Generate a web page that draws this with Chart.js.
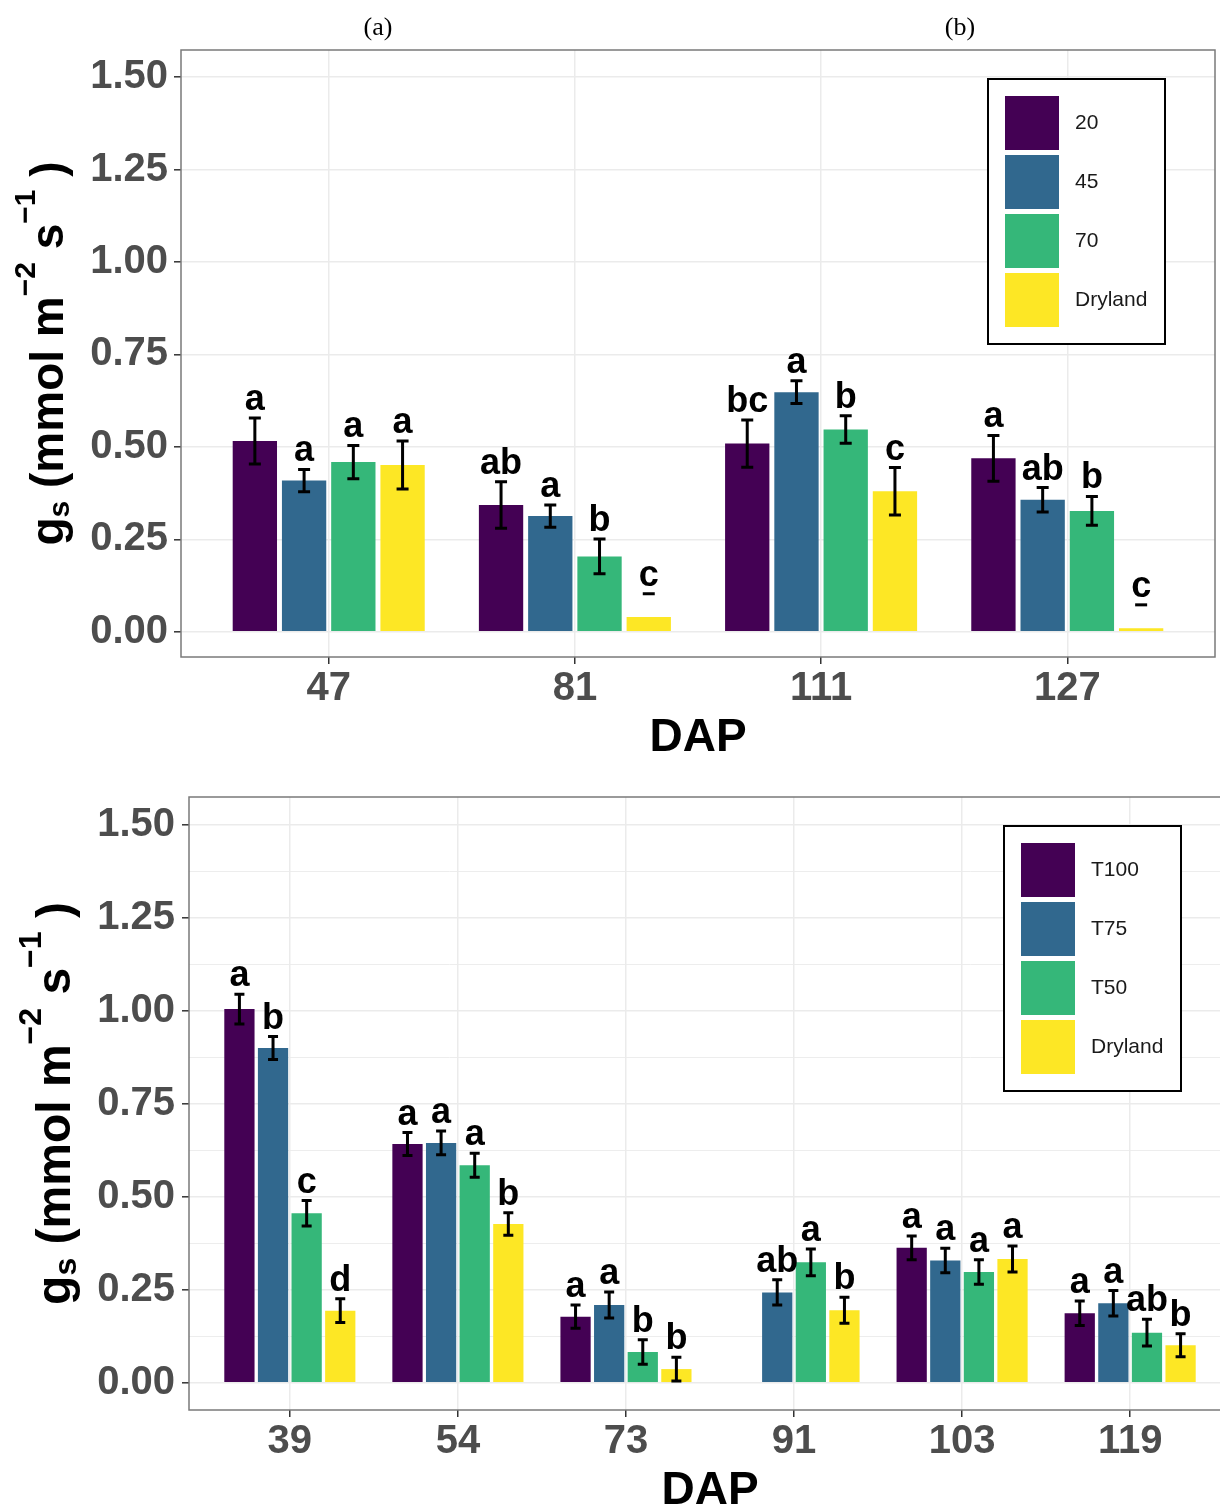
<!DOCTYPE html>
<html>
<head>
<meta charset="utf-8">
<script src="https://cdn.jsdelivr.net/npm/chart.js"></script>
<style>
  html, body { margin: 0; padding: 0; background: #fff; overflow: hidden; width: 1220px; height: 1504px; }
  .panel { position: absolute; left: 0; }
  .tag { position: absolute; z-index: 2; font-family: "Liberation Serif", serif; font-size: 26px; color: #000; transform: translateX(-50%); }
</style>
</head>
<body>
<div class="tag" style="left:378px; top:12px;">(a)</div>
<div class="tag" style="left:960px; top:12px;">(b)</div>
<canvas id="topChart" class="panel" width="1220" height="760" style="top:0"></canvas>
<canvas id="bottomChart" class="panel" width="1240" height="760" style="top:760px"></canvas>
<script>
const colors = ["#440154", "#31688E", "#35B779", "#FDE725"];
const yTicks = [0, 0.125, 0.25, 0.375, 0.5, 0.625, 0.75, 0.875, 1, 1.125, 1.25, 1.375, 1.5];

// top panel
const dapTop = ["47", "81", "111", "127"];
const groupsTop = ["20", "45", "70", "Dryland"];
const gs20 = [0.516, 0.343, 0.509, 0.469];
const gs45 = [0.409, 0.313, 0.648, 0.357];
const gs70 = [0.459, 0.204, 0.547, 0.327];
const gsDryTop = [0.451, 0.040, 0.380, 0.010];
const se20 = [0.062, 0.063, 0.064, 0.062];
const se45 = [0.030, 0.030, 0.031, 0.033];
const se70 = [0.045, 0.047, 0.037, 0.039];
const seDryTop = [0.065, 0.063, 0.064, 0.063];
const let20 = ["a", "ab", "bc", "a"];
const let45 = ["a", "a", "a", "ab"];
const let70 = ["a", "b", "b", "b"];
const letDryTop = ["a", "c", "c", "c"];

// bottom panel
const dapBottom = ["39", "54", "73", "91", "103", "119"];
const groupsBottom = ["T100", "T75", "T50", "Dryland"];
const gsT100 = [1.005, 0.642, 0.178, null, 0.363, 0.187];
const gsT75 = [0.900, 0.645, 0.209, 0.243, 0.329, 0.214];
const gsT50 = [0.456, 0.585, 0.083, 0.324, 0.298, 0.135];
const gsDryBottom = [0.194, 0.427, 0.037, 0.195, 0.333, 0.101];
const seT100 = [0.040, 0.031, 0.031, null, 0.032, 0.033];
const seT75 = [0.031, 0.032, 0.035, 0.034, 0.033, 0.034];
const seT50 = [0.034, 0.032, 0.033, 0.036, 0.033, 0.036];
const seDryBottom = [0.032, 0.030, 0.032, 0.035, 0.035, 0.031];
const letT100 = ["a", "a", "a", "", "a", "a"];
const letT75 = ["b", "a", "a", "ab", "a", "a"];
const letT50 = ["c", "a", "b", "a", "a", "ab"];
const letDryBottom = ["d", "b", "b", "b", "a", "b"];

const isMajor = (v) => Math.abs(v / 0.25 - Math.round(v / 0.25)) < 1e-6;

function drawYTitle(ctx, baseX, centerY, size) {
  const big = "bold " + size + 'px "Liberation Sans"';
  const small = "bold " + Math.round(size * 0.66) + 'px "Liberation Sans"';
  const parts = [
    ["g", big, 0], ["s", small, size * 0.12], [" (mmol m", big, 0],
    ["\u22122", small, -size * 0.6], [" s", big, 0], ["\u22121", small, -size * 0.6], [" )", big, 0]
  ];
  let total = 0;
  parts.forEach((p) => { ctx.font = p[1]; p.push(ctx.measureText(p[0]).width); total += p[3]; });
  ctx.save();
  ctx.translate(baseX, centerY);
  ctx.rotate(-Math.PI / 2);
  ctx.fillStyle = "#000";
  ctx.textBaseline = "alphabetic";
  ctx.textAlign = "left";
  let x = -total / 2;
  parts.forEach((p) => { ctx.font = p[1]; ctx.fillText(p[0], x, p[2]); x += p[3]; });
  ctx.restore();
}

function makeExtras(errs, letters, names, titleX, titleSize, capW) {
  return {
    id: "extras",
    afterDatasetsDraw(chart) {
      const ctx = chart.ctx;
      const y = chart.scales.y;
      ctx.save();
      chart.data.datasets.forEach((ds, i) => {
        chart.getDatasetMeta(i).data.forEach((bar, j) => {
          const v = ds.data[j].y;
          if (v == null) return;
          const se = errs[i][j];
          const top = y.getPixelForValue(v + se);
          const bot = y.getPixelForValue(v - se);
          ctx.strokeStyle = "#000";
          ctx.lineWidth = 3;
          ctx.beginPath();
          ctx.moveTo(bar.x - capW, top);
          ctx.lineTo(bar.x + capW, top);
          if (v - se >= 0) {
            ctx.moveTo(bar.x, top);
            ctx.lineTo(bar.x, bot);
            ctx.moveTo(bar.x - capW, bot);
            ctx.lineTo(bar.x + capW, bot);
          }
          ctx.stroke();
          ctx.fillStyle = "#000";
          ctx.font = 'bold 36px "Liberation Sans"';
          ctx.textAlign = "center";
          ctx.textBaseline = "alphabetic";
          ctx.fillText(letters[i][j], bar.x, top - 8);
        });
      });
      ctx.restore();
    },
    afterDraw(chart) {
      const ctx = chart.ctx;
      const a = chart.chartArea;
      ctx.save();
      ctx.strokeStyle = "#7a7a7a";
      ctx.lineWidth = 1.5;
      ctx.strokeRect(a.left, a.top, a.right - a.left, a.bottom - a.top);
      // legend box
      const bx = a.right - 227, by = a.top + 29;
      ctx.fillStyle = "#fff";
      ctx.fillRect(bx, by, 177, 265);
      ctx.strokeStyle = "#000";
      ctx.lineWidth = 2;
      ctx.strokeRect(bx, by, 177, 265);
      names.forEach((n, i) => {
        ctx.fillStyle = colors[i];
        ctx.fillRect(bx + 17, by + 17 + i * 59, 54, 54);
        ctx.fillStyle = "#1a1a1a";
        ctx.font = '21px "Liberation Sans"';
        ctx.textAlign = "left";
        ctx.textBaseline = "middle";
        ctx.fillText(n, bx + 87, by + 44 + i * 59);
      });
      ctx.restore();
      drawYTitle(ctx, titleX, (a.top + a.bottom) / 2, titleSize);
    }
  };
}

function makeChart(id, cats, names, series, errs, letters, o) {
  return new Chart(document.getElementById(id), {
    type: "bar",
    data: {
      datasets: names.map((n, i) => ({
        label: n,
        data: series[i].map((v, j) => ({ x: j + 1, y: v })),
        backgroundColor: colors[i],
        borderWidth: 0,
        categoryPercentage: 0.8,
        barPercentage: 0.9
      }))
    },
    options: {
      responsive: false,
      animation: false,
      events: [],
      devicePixelRatio: 1,
      layout: { padding: o.padding },
      plugins: { legend: { display: false }, tooltip: { enabled: false } },
      scales: {
        x: {
          type: "linear",
          offset: false,
          min: 0.4,
          max: cats.length + 0.6,
          afterBuildTicks: (s) => { s.ticks = cats.map((c, k) => ({ value: k + 1 })); },
          afterFit: (s) => { s.height = o.xHeight; },
          ticks: {
            callback: (v) => cats[Math.round(v) - 1],
            font: { family: "Liberation Sans", size: 40, weight: "bold" },
            color: "#4d4d4d",
            padding: 1,
            maxRotation: 0,
            autoSkip: false
          },
          grid: { offset: false, color: "#ebebeb", lineWidth: 1.5, tickLength: 7, tickColor: "#333", tickWidth: 1.5 },
          border: { display: false },
          title: {
            display: true,
            text: "DAP",
            color: "#000",
            font: { family: "Liberation Sans", size: 46, weight: "bold", lineHeight: o.titleLh },
            padding: { top: 0, bottom: o.titlePad }
          }
        },
        y: {
          min: o.yMin,
          max: o.yMax,
          afterBuildTicks: (s) => { s.ticks = yTicks.map((v) => ({ value: v })); },
          afterFit: (s) => { s.width = o.yWidth; },
          ticks: {
            callback: (v) => (isMajor(v) ? v.toFixed(2) : ""),
            font: { family: "Liberation Sans", size: 40, weight: "bold" },
            color: "#4d4d4d",
            padding: o.yPad
          },
          grid: {
            color: "#ebebeb",
            lineWidth: (c) => (isMajor(c.tick.value) ? 1.6 : 0.9),
            tickColor: (c) => (isMajor(c.tick.value) ? "#333" : "rgba(0,0,0,0)"),
            tickLength: 7,
            tickWidth: 1.5
          },
          border: { display: false }
        }
      }
    },
    plugins: [makeExtras(errs, letters, names, o.titleX, o.titleSize, o.capW)]
  });
}

makeChart("topChart", dapTop, groupsTop,
  [gs20, gs45, gs70, gsDryTop],
  [se20, se45, se70, seDryTop],
  [let20, let45, let70, letDryTop],
  { padding: { left: 0, top: 50, right: 5, bottom: 0 }, xHeight: 103, yWidth: 181, yPad: 6,
    yMin: -0.068, yMax: 1.573, titlePad: 0, titleLh: 0.95, titleX: 63, titleSize: 46, capW: 6 });

makeChart("bottomChart", dapBottom, groupsBottom,
  [gsT100, gsT75, gsT50, gsDryBottom],
  [seT100, seT75, seT50, seDryBottom],
  [letT100, letT75, letT50, letDryBottom],
  { padding: { left: 0, top: 37, right: 9, bottom: 0 }, xHeight: 110, yWidth: 189, yPad: 7,
    yMin: -0.073, yMax: 1.575, titlePad: 3, titleLh: 1.1, titleX: 70, titleSize: 48, capW: 5 });
</script>
</body>
</html>
